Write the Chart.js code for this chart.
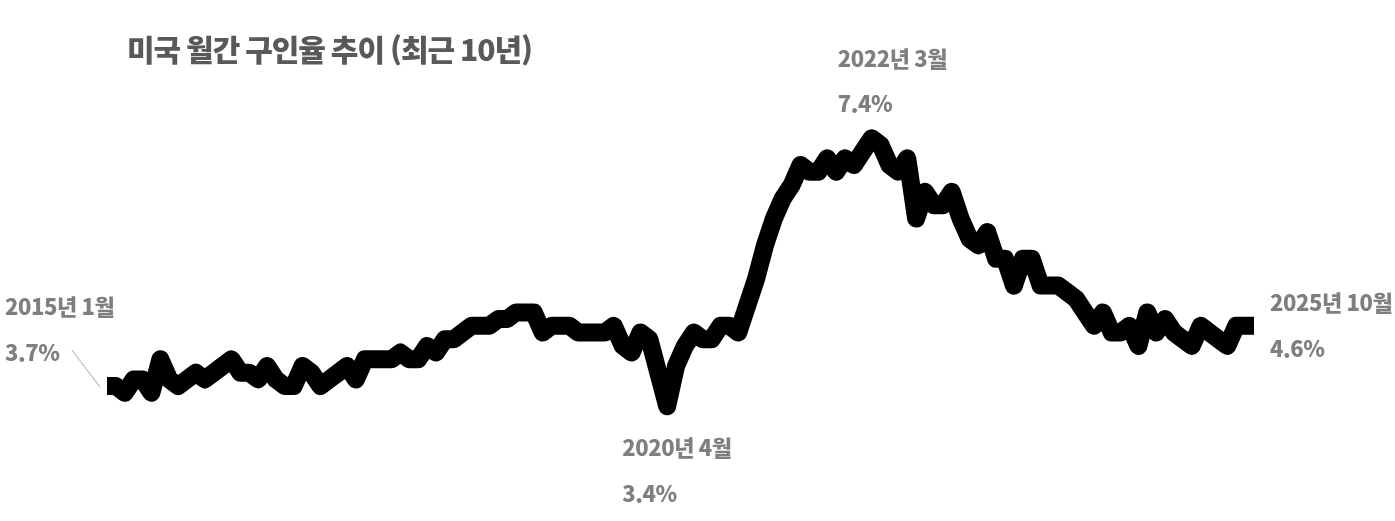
<!DOCTYPE html>
<html lang="ko">
<head>
<meta charset="utf-8">
<script src="https://cdn.jsdelivr.net/npm/chart.js@4.4.1/dist/chart.umd.min.js"></script>
<style>
  html, body { margin: 0; padding: 0; background: #ffffff; }
  #wrap { width: 1395px; height: 521px; position: relative; }
</style>
</head>
<body>
<div id="wrap"><canvas id="c" width="1395" height="521"></canvas></div>
<script>
// ---- DATA ----
const chartTitle = '미국 월간 구인율 추이 (최근 10년)';
const startYear = 2015;
const startMonth = 1;
// US job openings rate (%), monthly, 2015-01 .. 2025-10
const rate2015 = [3.7, 3.7, 3.6, 3.8, 3.8, 3.6, 4.1, 3.8, 3.7, 3.8, 3.9, 3.8];
const rate2016 = [3.9, 4.0, 4.1, 3.9, 3.9, 3.8, 4.0, 3.8, 3.7, 3.7, 4.0, 3.9];
const rate2017 = [3.7, 3.8, 3.9, 4.0, 3.8, 4.1, 4.1, 4.1, 4.1, 4.2, 4.1, 4.1];
const rate2018 = [4.3, 4.2, 4.4, 4.4, 4.5, 4.6, 4.6, 4.6, 4.7, 4.7, 4.8, 4.8];
const rate2019 = [4.8, 4.5, 4.6, 4.6, 4.6, 4.5, 4.5, 4.5, 4.5, 4.6, 4.3, 4.2];
const rate2020 = [4.5, 4.4, 3.9, 3.4, 4.0, 4.3, 4.5, 4.4, 4.4, 4.6, 4.6, 4.5];
const rate2021 = [4.9, 5.3, 5.8, 6.2, 6.5, 6.7, 7.0, 6.9, 6.9, 7.1, 6.9, 7.1];
const rate2022 = [7.0, 7.2, 7.4, 7.3, 7.0, 6.9, 7.1, 6.2, 6.6, 6.4, 6.4, 6.6];
const rate2023 = [6.2, 5.9, 5.8, 6.0, 5.6, 5.6, 5.2, 5.6, 5.6, 5.2, 5.2, 5.2];
const rate2024 = [5.1, 5.0, 4.8, 4.6, 4.8, 4.5, 4.5, 4.6, 4.3, 4.8, 4.5, 4.7];
const rate2025 = [4.5, 4.4, 4.3, 4.6, 4.5, 4.4, 4.3, 4.6, 4.6, 4.6];
const openingRate = [].concat(rate2015, rate2016, rate2017, rate2018, rate2019,
  rate2020, rate2021, rate2022, rate2023, rate2024, rate2025);

// month categories "YYYY-MM"
const categories = [];
for (let k = 0; k < openingRate.length; k++) {
  const m = startMonth - 1 + k;
  const y = startYear + Math.floor(m / 12);
  categories.push(y + '-' + String(m % 12 + 1).padStart(2, '0'));
}

// annotated points
const noteIndex = [0, 63, 86, 129];
const noteLabel = ['2015년 1월', '2020년 4월', '2022년 3월', '2025년 10월'];
const noteValue = ['3.7%', '3.4%', '7.4%', '4.6%'];

// ---- STYLE / LAYOUT ----
const FONT = '"Noto Sans CJK KR", "Noto Sans KR", "Noto Sans", sans-serif';
const noteOffsets = [
  { dx: -102, dyLabel: -79, dyValue: -33, leader: true },
  { dx: -45, dyLabel: 41, dyValue: 87 },
  { dx: -34, dyLabel: -80, dyValue: -35 },
  { dx: 16, dyLabel: -23, dyValue: 23 }
];

const annotationPlugin = {
  id: 'annotations',
  afterDatasetsDraw(chart) {
    const ctx = chart.ctx;
    const xs = chart.scales.x, ys = chart.scales.y;
    ctx.save();
    // title
    ctx.fillStyle = '#595959';
    ctx.font = '900 30px ' + FONT;
    ctx.textBaseline = 'middle';
    ctx.textAlign = 'left';
    if ('letterSpacing' in ctx) ctx.letterSpacing = '-1px';
    ctx.fillText(chartTitle, 127, 50);
    // notes
    ctx.font = '900 22px ' + FONT;
    if ('letterSpacing' in ctx) ctx.letterSpacing = '-0.4px';
    ctx.fillStyle = '#7f7f7f';
    noteIndex.forEach((idx, n) => {
      const px = xs.getPixelForValue(idx);
      const py = ys.getPixelForValue(openingRate[idx]);
      const o = noteOffsets[n];
      const tx = px + o.dx;
      ctx.fillText(noteLabel[n], tx, py + o.dyLabel);
      ctx.fillText(noteValue[n], tx, py + o.dyValue);
      if (o.leader) {
        ctx.strokeStyle = '#a6a6a6';
        ctx.lineWidth = 1;
        ctx.beginPath();
        ctx.moveTo(px - 35, py - 36);
        ctx.lineTo(px - 7, py + 1);
        ctx.stroke();
      }
    });
    ctx.restore();
  }
};

new Chart(document.getElementById('c'), {
  type: 'line',
  data: {
    labels: categories,
    datasets: [{
      label: '구인율',
      data: openingRate,
      borderColor: '#000000',
      backgroundColor: '#000000',
      borderWidth: 18,
      borderJoinStyle: 'round',
      borderCapStyle: 'butt',
      pointRadius: 0,
      pointHoverRadius: 0,
      tension: 0,
      fill: false,
      clip: false
    }]
  },
  options: {
    responsive: false,
    animation: false,
    devicePixelRatio: 1,
    layout: { padding: { left: 107, right: 141, top: 98, bottom: 88 } },
    plugins: { legend: { display: false }, tooltip: { enabled: false }, title: { display: false } },
    scales: {
      x: { type: 'category', offset: false, display: false },
      y: { type: 'linear', min: 3, max: 8, display: false }
    }
  },
  plugins: [annotationPlugin]
});
</script>
</body>
</html>
